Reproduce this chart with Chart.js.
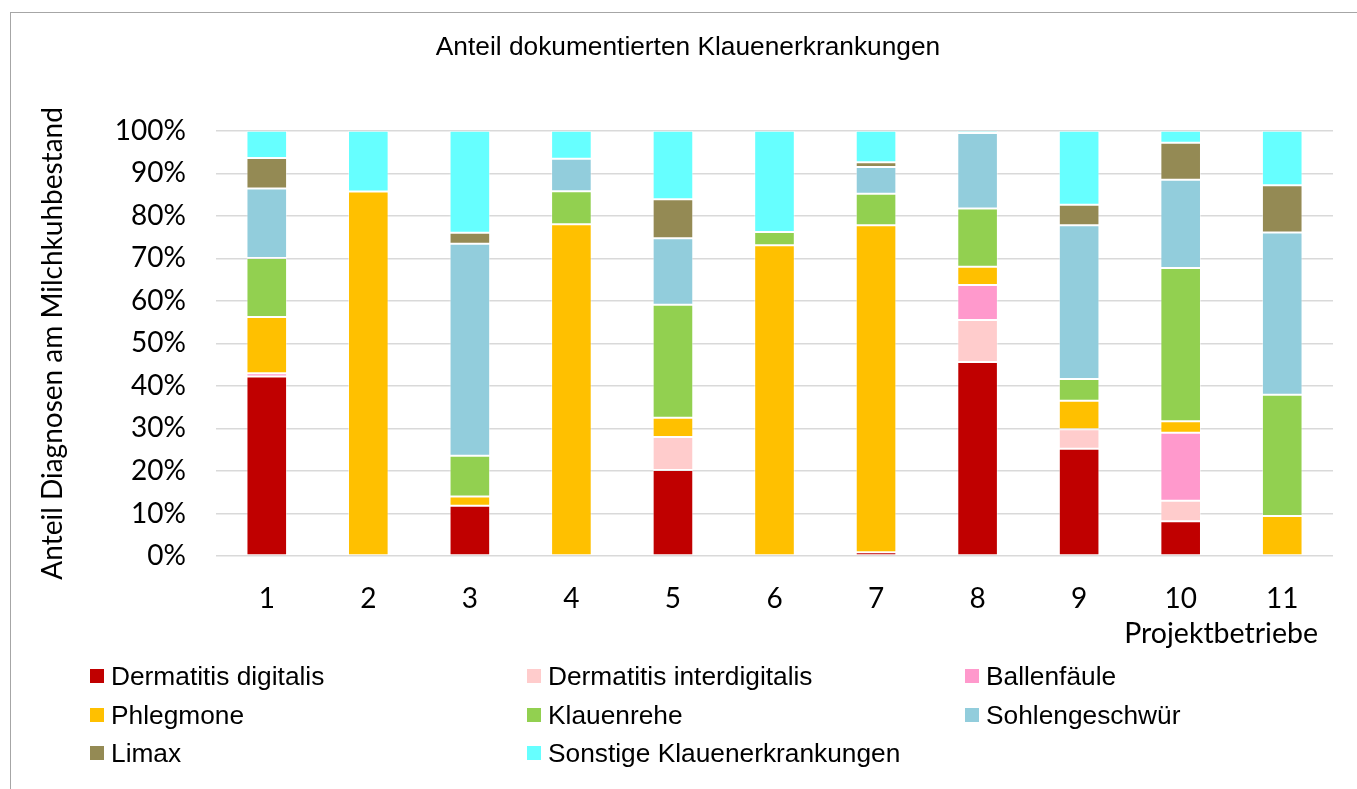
<!DOCTYPE html>
<html>
<head>
<meta charset="utf-8">
<script src="https://cdn.jsdelivr.net/npm/chart.js@4.4.1/dist/chart.umd.min.js"></script>
<style>
html,body{margin:0;padding:0;background:#fff;overflow:hidden}
#wrap{position:relative;width:1357px;height:789px;overflow:hidden}
#frame{position:absolute;left:10px;top:12px;width:1400px;height:820px;border-left:1.5px solid #a6a6a6;border-top:1.5px solid #a6a6a6;box-sizing:border-box}
#c{position:absolute;left:0;top:0}
#xtitle{position:absolute;right:39px;top:615px;font-family:Lato,sans-serif;font-size:28.5px;line-height:34px;color:#000;white-space:nowrap}
.lb{position:absolute;width:14px;height:14px}
.lt{position:absolute;font-family:"Liberation Sans",Arial,sans-serif;font-size:26.3px;line-height:30px;color:#000;white-space:nowrap}
</style>
</head>
<body>
<div id="wrap">
<div id="frame"></div>
<canvas id="c" width="1357" height="789"></canvas>
<div id="xtitle">Projektbetriebe</div>
<div id="legend"></div>
</div>
<script>
// ---- data ----
const categories = ['1','2','3','4','5','6','7','8','9','10','11'];
const seriesNames = ['Dermatitis digitalis','Dermatitis interdigitalis','Ballenfäule','Phlegmone','Klauenrehe','Sohlengeschwür','Limax','Sonstige Klauenerkrankungen'];
const seriesColors = ['#C00000','#FFCCCC','#FF99CC','#FFC000','#92D050','#92CDDC','#948A54','#66FFFF'];
const dermatitisDigitalis      = [42.2, null, 11.8, null, 20.2, null, 0.9, 45.6, 25.2, 8.2, null];
const dermatitisInterdigitalis = [null, null, null, null, 7.8, null, null, 9.9, 4.6, 4.8, null];
const ballenfaeule             = [0.8, null, null, null, null, null, null, 8.2, null, 16.0, null];
const phlegmone                = [13.2, 85.7, 2.2, 78.0, 4.5, 73.1, 76.9, 4.3, 6.7, 2.7, 9.4];
const klauenrehe               = [13.9, null, 9.6, 7.8, 26.6, 3.1, 7.4, 13.7, 5.1, 36.0, 28.5];
const sohlengeschwuer          = [16.3, null, 49.8, 7.6, 15.6, null, 6.3, 17.8, 36.2, 20.8, 38.2];
const limax                    = [7.2, null, 2.6, null, 9.2, null, 1.1, null, 4.8, 8.7, 11.1];
const sonstige                 = [6.4, 14.3, 24.0, 6.6, 16.1, 23.8, 7.4, 0.5, 17.4, 2.8, 12.8];
const seriesValues = [dermatitisDigitalis, dermatitisInterdigitalis, ballenfaeule, phlegmone, klauenrehe, sohlengeschwuer, limax, sonstige];
const yTickMax = 100, yTickStep = 10;
const chartTitle = 'Anteil dokumentierten Klauenerkrankungen';
const yTitle = 'Anteil Diagnosen am Milchkuhbestand';

// ---- chart ----
const datasets = seriesNames.map((n, i) => ({
  label: n,
  data: seriesValues[i],
  backgroundColor: seriesColors[i],
  borderColor: 'rgba(255,255,255,0.45)',
  borderWidth: 1,
  borderSkipped: false,
  barPercentage: 0.4,
  categoryPercentage: 1.0
}));

new Chart(document.getElementById('c'), {
  type: 'bar',
  data: { labels: categories, datasets },
  options: {
    responsive: false,
    animation: false,
    layout: { padding: { left: 43, right: 24, top: 0, bottom: 0 } },
    plugins: {
      legend: { display: false },
      tooltip: { enabled: false },
      title: {
        display: true,
        text: chartTitle,
        color: '#000',
        font: { family: '"Liberation Sans", Arial, sans-serif', size: 26.3, weight: 'normal', lineHeight: 1.2 },
        padding: { top: 32, bottom: 67.2 }
      }
    },
    scales: {
      x: {
        stacked: true,
        grid: { display: false, drawTicks: false },
        border: { display: false },
        ticks: { color: '#000', font: { family: 'Lato, sans-serif', size: 28 }, padding: 26, maxRotation: 0 },
        afterFit: s => { s.height = 233; }
      },
      y: {
        stacked: true,
        min: 0, max: yTickMax,
        grid: { color: '#d9d9d9', lineWidth: 1.5, drawTicks: false },
        border: { display: false },
        ticks: { stepSize: yTickStep, color: '#000', font: { family: 'Lato, sans-serif', size: 28 }, padding: 30, callback: v => v + '%' },
        title: { display: true, text: yTitle, color: '#000', font: { family: 'Lato, sans-serif', size: 28 }, padding: { top: -7, bottom: 0 } },
        afterFit: s => { s.width = 173; }
      }
    }
  }
});

// ---- legend (HTML, from the same series arrays) ----
const colX = [90, 527, 965];
const rowY = [676, 715, 753];
const leg = document.getElementById('legend');
seriesNames.forEach((n, k) => {
  const cx = colX[k % 3], cy = rowY[Math.floor(k / 3)];
  const b = document.createElement('div');
  b.className = 'lb';
  b.style.left = cx + 'px'; b.style.top = (cy - 7) + 'px';
  b.style.background = seriesColors[k];
  leg.appendChild(b);
  const t = document.createElement('div');
  t.className = 'lt';
  t.style.left = (cx + 21) + 'px'; t.style.top = (cy - 15) + 'px';
  t.textContent = n;
  leg.appendChild(t);
});
</script>
</body>
</html>
